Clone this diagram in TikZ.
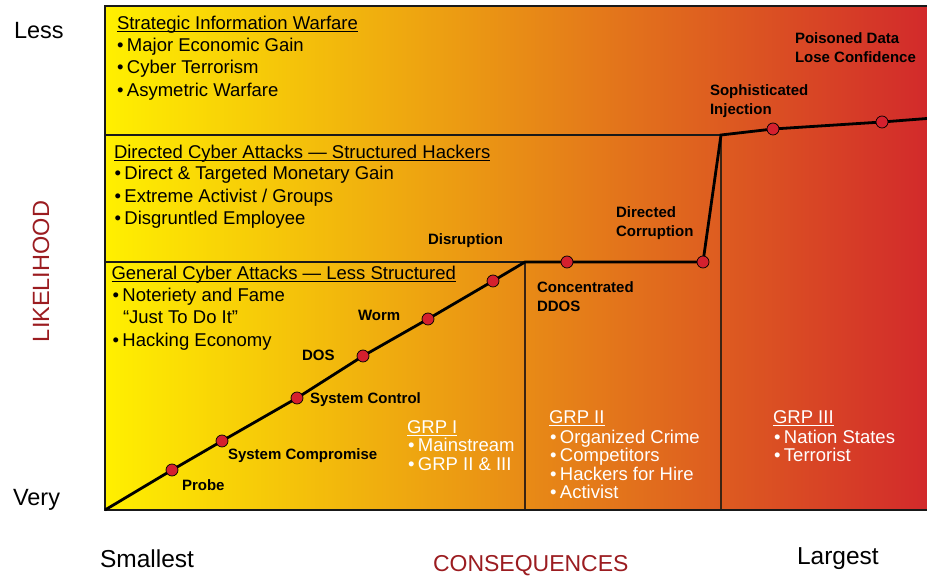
\documentclass[tikz,border=0pt]{standalone}
\usepackage{fontspec}
\setmainfont{Liberation Sans}
\definecolor{cY}{HTML}{FFF000}
\definecolor{cM}{HTML}{E68A2A}
\definecolor{cR}{HTML}{D22A2B}
\definecolor{dotred}{HTML}{D5202E}
\definecolor{axred}{HTML}{9B1C20}
\definecolor{inner}{HTML}{3B2412}
\newcommand\bandfont{\fontsize{18.5}{22}\selectfont}
\newcommand\lblfont{\bfseries\fontsize{15}{18}\selectfont}
\newcommand\axfont{\fontsize{23.5}{26}\selectfont}
\newcommand\bul{\textbullet\hspace{3.5pt}}
\tikzset{
  txt/.style={inner sep=0, outer sep=0, anchor=base west},
  band/.style={txt, font=\bandfont},
  lbl/.style={txt, font=\lblfont},
  grp/.style={txt, font=\bandfont, text=white},
  ax/.style={txt, font=\axfont},
  border/.style={draw=black!90, line width=2pt},
  innerline/.style={draw=inner, line width=1.5pt},
  curve/.style={draw=black, line width=2.8pt, line join=miter},
  dot/.style={circle, fill=dotred, draw=black, line width=0.7pt, minimum size=12pt, inner sep=0},
  uline/.style={line width=1pt},
}
\begin{document}
\begin{tikzpicture}[x=1pt,y=-1pt]
\useasboundingbox (0,0) rectangle (927,577);
% background gradient
\shade[left color=cY, middle color=cM, right color=cR] (105,6) rectangle (927,510);
% inner lines
\draw[innerline] (525,262) -- (525,510);
\draw[innerline] (721,135) -- (721,510);
% band separators
\draw[border] (105,135) -- (721,135);
\draw[border] (105,262) -- (525,262);
% frame
\draw[border] (927,6) -- (105,6) -- (105,510) -- (927,510);
% curve points
\coordinate (p0) at (105,510);
\coordinate (q1) at (172,470);
\coordinate (q2) at (222,441);
\coordinate (q3) at (297,398);
\coordinate (q4) at (363,356);
\coordinate (q5) at (428,319);
\coordinate (q6) at (493,281);
\coordinate (k1) at (525,262);
\coordinate (q7) at (567,262);
\coordinate (q8) at (703,262);
\coordinate (k2) at (721,135);
\coordinate (q9) at (773,129);
\coordinate (q10) at (882,122);
\coordinate (pe) at (927,118.5);
\draw[curve] (p0) -- (q1) -- (q2) -- (q3) -- (q4) -- (q5) -- (q6) -- (k1) -- (q7) -- (q8) -- (k2) -- (q9) -- (q10) -- (pe);
\foreach \i in {1,...,10} \node[dot] (d\i) at (q\i) {};
% band 1
\node[band] (h1) at (117,30) {Strategic Information Warfare};
\draw[uline] ([yshift=-2pt]h1.base west) -- ([yshift=-2pt]h1.base east);
\node[band] (b11) at (117,52) {\bul Major Economic Gain};
\node[band] (b12) at (117,74) {\bul Cyber Terrorism};
\node[band] (b13) at (117,96.5) {\bul Asymetric Warfare};
% band 2
\node[band] (h2) at (114,159) {Directed Cyber Attacks — Structured Hackers};
\draw[uline] ([yshift=-2pt]h2.base west) -- ([yshift=-2pt]h2.base east);
\node[band] (b21) at (114.5,180) {\bul Direct \& Targeted Monetary Gain};
\node[band] (b22) at (114.5,203) {\bul Extreme Activist / Groups};
\node[band] (b23) at (114.5,225) {\bul Disgruntled Employee};
% band 3
\node[band] (h3) at (111.5,280) {General Cyber Attacks — Less Structured};
\draw[uline] ([yshift=-2pt]h3.base west) -- ([yshift=-2pt]h3.base east);
\node[band] (b31) at (112.5,302) {\bul Noteriety and Fame};
\node[band] (b32) at (123,324) {“Just To Do It”};
\node[band] (b33) at (112.5,346.5) {\bul Hacking Economy};
% curve labels
\node[lbl] (l1) at (182,490) {Probe};
\node[lbl] (l2) at (228,459) {System Compromise};
\node[lbl] (l3) at (310,404) {System Control};
\node[lbl] (l4) at (302,361) {DOS};
\node[lbl] (l5) at (358,321) {Worm};
\node[lbl] (l6) at (428,245) {Disruption};
\node[lbl] (l7a) at (537,293) {Concentrated};
\node[lbl] (l7b) at (537,312) {DDOS};
\node[lbl] (l8a) at (616,218) {Directed};
\node[lbl] (l8b) at (616,237) {Corruption};
\node[lbl] (l9a) at (710,96) {Sophisticated};
\node[lbl] (l9b) at (710,115) {Injection};
\node[lbl] (l10a) at (795,44) {Poisoned Data};
\node[lbl] (l10b) at (795,63) {Lose Confidence};
% groups
\node[grp] (g1) at (407,433) {GRP I};
\draw[uline, white] ([yshift=-2pt]g1.base west) -- ([yshift=-2pt]g1.base east);
\node[grp] (g11) at (408,451.5) {\bul Mainstream};
\node[grp] (g12) at (408,470) {\bul GRP II \& III};
\node[grp] (g2) at (549,424) {GRP II};
\draw[uline, white] ([yshift=-2pt]g2.base west) -- ([yshift=-2pt]g2.base east);
\node[grp] (g21) at (550,443) {\bul Organized Crime};
\node[grp] (g22) at (550,461.5) {\bul Competitors};
\node[grp] (g23) at (550,480) {\bul Hackers for Hire};
\node[grp] (g24) at (550,498.5) {\bul Activist};
\node[grp] (g3) at (773,424) {GRP III};
\draw[uline, white] ([yshift=-2pt]g3.base west) -- ([yshift=-2pt]g3.base east);
\node[grp] (g31) at (774,443) {\bul Nation States};
\node[grp] (g32) at (774,461.5) {\bul Terrorist};
% axes labels
\node[ax] (less) at (14,39) {Less};
\node[ax] (very) at (13,505) {Very};
\node[ax, anchor=base, rotate=90, text=axred] (lik) at (49,271.5) {LIKELIHOOD};
\node[ax, font=\fontsize{24.5}{27}\selectfont] (small) at (100,567) {Smallest};
\node[ax, font=\fontsize{24.5}{27}\selectfont] (large) at (797,564) {Largest};
\node[ax, text=axred, font=\fontsize{23}{26}\selectfont] (cons) at (433,571.5) {CONSEQUENCES};
\end{tikzpicture}
\end{document}
